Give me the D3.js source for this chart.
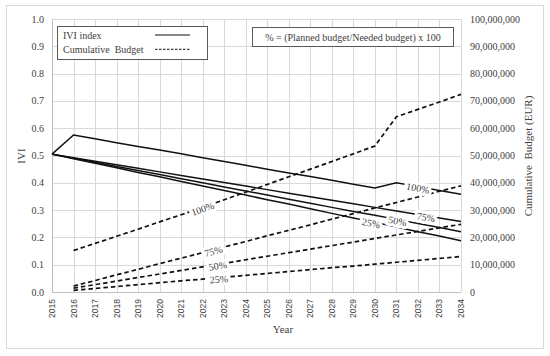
<!DOCTYPE html>
<html>
<head>
<meta charset="utf-8"/>
<title>IVI index and cumulative budget</title>
<script src="https://d3js.org/d3.v7.min.js"></script>
<style>
    body { margin: 0; background: #fff; }
    svg { display: block; }
    text { font-family: "Liberation Serif", serif; fill: #404040; }
    .yr { font-family: "Liberation Sans", sans-serif; font-size: 8.5px; }
</style>
</head>
<body>
<svg class="main" width="550" height="356"></svg>

<script>
    // years on the x axis
    var years = [2015, 2016, 2017, 2018, 2019, 2020, 2021, 2022, 2023, 2024,
        2025, 2026, 2027, 2028, 2029, 2030, 2031, 2032, 2033, 2034]
    var budgetYears = years.slice(1)

    // IVI index (left axis), one line per budget share
    var ivi100 = [0.505, 0.575, 0.561, 0.547, 0.533, 0.520, 0.506, 0.492, 0.478, 0.464,
        0.450, 0.436, 0.423, 0.409, 0.395, 0.381, 0.400, 0.386, 0.372, 0.358]
    var ivi75 = [0.505, 0.492, 0.479, 0.466, 0.453, 0.440, 0.427, 0.414, 0.401, 0.388,
        0.375, 0.362, 0.349, 0.336, 0.323, 0.310, 0.297, 0.284, 0.271, 0.258]
    var ivi50 = [0.505, 0.490, 0.475, 0.460, 0.445, 0.430, 0.415, 0.400, 0.385, 0.370,
        0.355, 0.340, 0.325, 0.310, 0.295, 0.281, 0.266, 0.251, 0.236, 0.221]
    var ivi25 = [0.505, 0.488, 0.472, 0.455, 0.438, 0.422, 0.405, 0.388, 0.372, 0.355,
        0.338, 0.322, 0.305, 0.288, 0.271, 0.255, 0.238, 0.221, 0.205, 0.188]

    // cumulative budget in EUR (right axis), from 2016
    var budget100 = [15.2e6, 17.8e6, 20.4e6, 23.0e6, 25.7e6, 28.3e6, 31.0e6, 33.8e6, 36.6e6, 39.4e6,
        42.2e6, 45.0e6, 47.8e6, 50.6e6, 53.5e6, 64.2e6, 66.9e6, 69.6e6, 72.4e6]
    var budget75 = [2.2e6, 4.2e6, 6.3e6, 8.3e6, 10.4e6, 12.4e6, 14.4e6, 16.5e6, 18.5e6, 20.6e6,
        22.6e6, 24.6e6, 26.7e6, 28.7e6, 30.8e6, 32.8e6, 34.8e6, 36.9e6, 38.9e6]
    var budget50 = [1.4e6, 2.7e6, 4.0e6, 5.3e6, 6.6e6, 7.9e6, 9.2e6, 10.5e6, 11.8e6, 13.1e6,
        14.4e6, 15.7e6, 17.0e6, 18.3e6, 19.6e6, 20.9e6, 22.2e6, 23.5e6, 24.8e6]
    var budget25 = [0.6e6, 1.3e6, 2.0e6, 2.7e6, 3.4e6, 4.1e6, 4.7e6, 5.4e6, 6.1e6, 6.8e6,
        7.5e6, 8.2e6, 8.9e6, 9.5e6, 10.2e6, 10.9e6, 11.6e6, 12.3e6, 13.0e6]

    var leftTicks = [0, 0.1, 0.2, 0.3, 0.4, 0.5, 0.6, 0.7, 0.8, 0.9, 1.0]
    var rightTicks = [0, 10e6, 20e6, 30e6, 40e6, 50e6, 60e6, 70e6, 80e6, 90e6, 100e6]

    // where the percentage labels sit (year along the line)
    var iviLabels = [{name: "100%", values: ivi100, year: 2032},
        {name: "75%", values: ivi75, year: 2032.37},
        {name: "50%", values: ivi50, year: 2031.05},
        {name: "25%", values: ivi25, year: 2029.82}]
    var budgetLabels = [{name: "100%", values: budget100, year: 2022},
        {name: "75%", values: budget75, year: 2022.5},
        {name: "50%", values: budget50, year: 2022.7},
        {name: "25%", values: budget25, year: 2022.75}]

    var legendNames = ["IVI index", "Cumulative  Budget"]
    var noteText = "% = (Planned budget/Needed budget) x 100"

    var svg = d3.select("svg.main")

    var x = d3.scaleLinear().domain([2015, 2034]).range([52, 461])
    var yL = d3.scaleLinear().domain([0, 1]).range([292, 19])
    var yR = d3.scaleLinear().domain([0, 100e6]).range([292, 19])

    // outer frame
    svg.append("rect")
        .attr("x", 6.5).attr("y", 5.5)
        .attr("width", 537).attr("height", 343)
        .attr("fill", "#fff").attr("stroke", "#d9d9d9")

    // grid
    var grid = svg.append("g").attr("stroke", "#d9d9d9").attr("stroke-width", 1)
    grid.selectAll("line.h").data(leftTicks).enter().append("line")
        .attr("class", "h")
        .attr("x1", x(2015)).attr("x2", x(2034))
        .attr("y1", function (d) { return Math.round(yL(d)) + 0.5 })
        .attr("y2", function (d) { return Math.round(yL(d)) + 0.5 })
    grid.selectAll("line.v").data(years).enter().append("line")
        .attr("class", "v")
        .attr("x1", function (d) { return Math.round(x(d)) + 0.5 })
        .attr("x2", function (d) { return Math.round(x(d)) + 0.5 })
        .attr("y1", yL(1)).attr("y2", yL(0))

    // axis lines
    svg.append("line")
        .attr("x1", Math.round(x(2015)) + 0.5).attr("x2", Math.round(x(2015)) + 0.5)
        .attr("y1", yL(1)).attr("y2", yL(0))
        .attr("stroke", "#bfbfbf")
    svg.append("line")
        .attr("x1", x(2015)).attr("x2", x(2034))
        .attr("y1", Math.round(yL(0)) + 0.5).attr("y2", Math.round(yL(0)) + 0.5)
        .attr("stroke", "#bfbfbf")

    // tick labels
    svg.append("g").selectAll("text").data(leftTicks).enter().append("text")
        .attr("x", 44).attr("y", function (d) { return yL(d) })
        .attr("dy", "0.35em")
        .attr("text-anchor", "end")
        .style("font-size", "10px")
        .text(d3.format(".1f"))
    svg.append("g").selectAll("text").data(rightTicks).enter().append("text")
        .attr("x", 470).attr("y", function (d) { return yR(d) })
        .attr("dy", "0.35em")
        .style("font-size", "10px")
        .text(d3.format(","))
    svg.append("g").selectAll("text").data(years).enter().append("text")
        .attr("class", "yr")
        .attr("transform", function (d) { return "translate(" + x(d) + ",299) rotate(-90)" })
        .attr("dy", "0.35em")
        .attr("text-anchor", "end")
        .text(function (d) { return d })

    // axis titles
    svg.append("text")
        .attr("transform", "translate(21,156) rotate(-90)")
        .attr("dy", "0.35em").attr("text-anchor", "middle")
        .style("font-size", "11px")
        .text("IVI")
    svg.append("text")
        .attr("x", 283).attr("y", 333)
        .attr("text-anchor", "middle")
        .style("font-size", "11px")
        .text("Year")
    svg.append("text")
        .attr("transform", "translate(528,156) rotate(-90)")
        .attr("dy", "0.35em").attr("text-anchor", "middle")
        .style("font-size", "11px")
        .style("white-space", "pre")
        .text("Cumulative  Budget (EUR)")

    // lines
    var iviLine = d3.line()
        .x(function (d, i) { return x(years[i]) })
        .y(function (d) { return yL(d) })
    var budgetLine = d3.line()
        .x(function (d, i) { return x(budgetYears[i]) })
        .y(function (d) { return yR(d) })

    svg.append("g").selectAll("path").data([budget100, budget75, budget50, budget25]).enter()
        .append("path")
        .attr("d", budgetLine)
        .attr("fill", "none")
        .attr("stroke", "#111")
        .attr("stroke-width", 1.7)
        .attr("stroke-dasharray", "4.5,3")
    svg.append("g").selectAll("path").data([ivi100, ivi75, ivi50, ivi25]).enter()
        .append("path")
        .attr("d", iviLine)
        .attr("fill", "none")
        .attr("stroke", "#111")
        .attr("stroke-width", 1.5)

    // labels along the lines
    function labelPos(yrs, vals, t, yScale) {
        var i = Math.max(0, Math.min(yrs.length - 2, d3.bisectRight(yrs, t) - 1))
        var f = (t - yrs[i]) / (yrs[i + 1] - yrs[i])
        var v = vals[i] + f * (vals[i + 1] - vals[i])
        var ang = Math.atan2(yScale(vals[i + 1]) - yScale(vals[i]), x(yrs[i + 1]) - x(yrs[i])) * 180 / Math.PI
        return {x: x(t), y: yScale(v), a: ang}
    }

    function drawLabels(list, yrs, yScale) {
        svg.append("g").selectAll("text").data(list).enter().append("text")
            .attr("transform", function (d) {
                var p = labelPos(yrs, d.values, d.year, yScale)
                return "translate(" + p.x + "," + (p.y + 1.5) + ") rotate(" + p.a + ")"
            })
            .attr("dy", "0.35em")
            .attr("text-anchor", "middle")
            .style("font-size", "10px")
            .style("paint-order", "stroke")
            .attr("stroke", "#fff")
            .attr("stroke-width", 6)
            .attr("fill", "#333")
            .text(function (d) { return d.name })
    }
    drawLabels(iviLabels, years, yL)
    drawLabels(budgetLabels, budgetYears, yR)

    // legend
    var legend = svg.append("g")
    legend.append("rect")
        .attr("x", 57.5).attr("y", 26.5).attr("width", 150).attr("height", 33)
        .attr("fill", "#fff").attr("stroke", "#595959")
    legend.selectAll("text").data(legendNames).enter().append("text")
        .attr("x", 63).attr("y", function (d, i) { return 35 + i * 14.3 })
        .attr("dy", "0.35em")
        .style("font-size", "10px")
        .style("white-space", "pre")
        .text(function (d) { return d })
    legend.selectAll("line").data(legendNames).enter().append("line")
        .attr("x1", 155).attr("x2", 190)
        .attr("y1", function (d, i) { return 35 + i * 14.3 })
        .attr("y2", function (d, i) { return 35 + i * 14.3 })
        .attr("stroke", "#111")
        .attr("stroke-width", function (d, i) { return i ? 1 : 1.2 })
        .attr("stroke-dasharray", function (d, i) { return i ? "2.5,1.5" : null })

    svg.append("rect")
        .attr("x", 252.5).attr("y", 27.5).attr("width", 201).attr("height", 19)
        .attr("fill", "#fff").attr("stroke", "#595959")
    svg.append("text")
        .attr("x", 353).attr("y", 37)
        .attr("dy", "0.35em")
        .attr("text-anchor", "middle")
        .style("font-size", "10px")
        .text(noteText)
</script>
</body>
</html>
